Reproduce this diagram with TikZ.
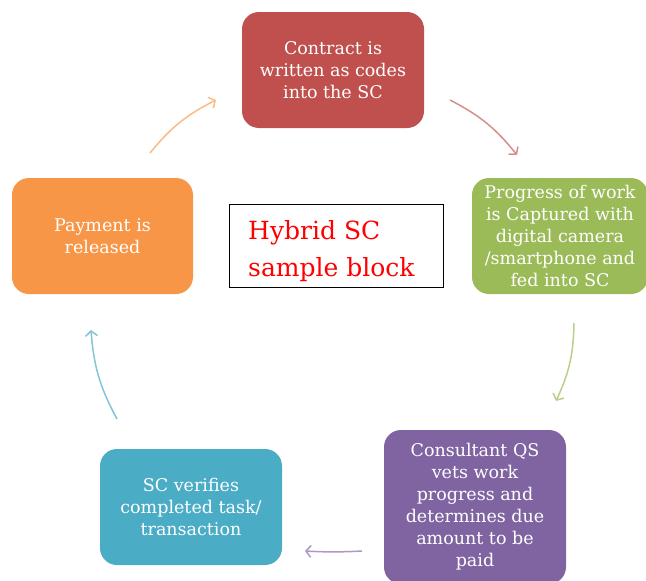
\documentclass[tikz,border=0pt]{standalone}
\usepackage{fontspec}
\setmainfont{DejaVu Serif}
\usetikzlibrary{arrows.meta}
\definecolor{cContract}{RGB}{192,80,77}
\definecolor{cProgress}{RGB}{155,187,89}
\definecolor{cConsult}{RGB}{128,100,162}
\definecolor{cVerify}{RGB}{75,172,198}
\definecolor{cPay}{RGB}{247,150,70}

\begin{document}
\begin{tikzpicture}[x=1pt,y=-1pt,font=\fontsize{17.5}{22}\selectfont,
  >={Straight Barb[length=5pt,width=12pt]},
  stepbox/.style={rounded corners=17pt,text=white,align=center,minimum width=182pt,minimum height=116pt,inner sep=1pt},
  flow/.style={->,line width=1.5pt,bend left=12}]
\useasboundingbox (0,0) rectangle (646,581);
% the five steps
\node[stepbox,fill=cContract] (contract) at (333,70) {Contract is\\written as codes\\into the SC};
\node[stepbox,fill=cProgress,minimum width=176pt] (progress) at (560,236) {Progress of work\\is Captured with\\digital camera\\/smartphone and\\fed into SC};
\node[stepbox,fill=cConsult,minimum height=154pt] (consult) at (475,507) {Consultant QS\\vets work\\progress and\\determines due\\amount to be\\paid};
\node[stepbox,fill=cVerify] (verify) at (191,507) {SC verifies\\completed task/\\transaction};
\node[stepbox,fill=cPay,minimum width=181pt] (pay) at (102.5,236) {Payment is\\released};
% centre block
\node[text=red,anchor=north west,align=left,inner sep=0pt,font=\fontsize{25}{37}\selectfont] (hybridtext) at (248,220) {Hybrid SC\\sample block};
\fill[white] (230,287.5) rectangle (443,300);
\node[draw,line width=0.8pt,minimum width=214pt,minimum height=83pt,inner sep=0pt] (hybrid) at (336,245.5) {};
% arrows between the steps
\coordinate (a1) at (450,100); \coordinate (b1) at (517,155);
\coordinate (a2) at (574,323); \coordinate (b2) at (556,401);
\coordinate (a3) at (362,551); \coordinate (b3) at (305,551);
\coordinate (a4) at (117,419); \coordinate (b4) at (91,330);
\coordinate (a5) at (150,153); \coordinate (b5) at (216,100);
\draw[flow,cContract!65] (a1) to (b1);
\draw[flow,cProgress!70] (a2) to (b2);
\draw[flow,cConsult!65,bend left=3] (a3) to (b3);
\draw[flow,cVerify!70] (a4) to (b4);
\draw[flow,cPay!65] (a5) to (b5);
\end{tikzpicture}
\end{document}
